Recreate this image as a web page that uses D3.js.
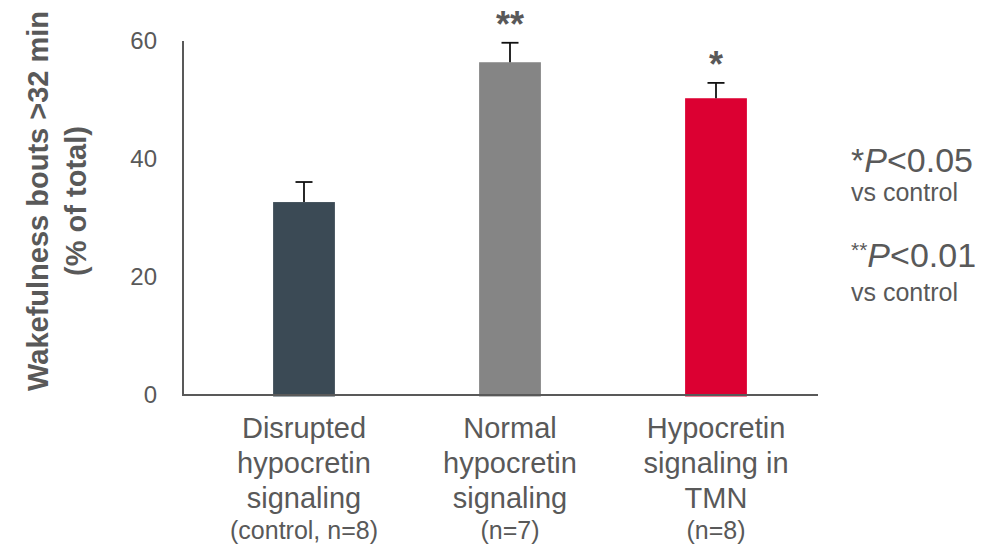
<!DOCTYPE html>
<html lang="en">
<head>
<meta charset="UTF-8">
<title>Wakefulness bouts</title>
<style>
  body { margin: 0; background: #fff; font-family: Arial, 'Liberation Sans', sans-serif; }
  svg text { fill: #595959; }
</style>
</head>
<body>
<svg id="chart" width="994" height="550"></svg>
<script src="https://cdn.jsdelivr.net/npm/d3@7"></script>
<script>
// data
var groups   = ['Disrupted hypocretin signaling', 'Normal hypocretin signaling', 'Hypocretin signaling in TMN'];
var labels   = [['Disrupted', 'hypocretin', 'signaling'], ['Normal', 'hypocretin', 'signaling'], ['Hypocretin', 'signaling in', 'TMN']];
var nLabels  = ['(control, n=8)', '(n=7)', '(n=8)'];
var values   = [32.7, 56.4, 50.3];
var errors   = [3.4, 3.3, 2.6];
var sigMarks = ['', '**', '*'];
var colors   = ['#3b4a55', '#858585', '#dc0032'];
var yTicks   = [0, 20, 40, 60];

var svg = d3.select('#chart');
var x0 = 183, x1 = 818, yTop = 41, yBot = 395;

var y = d3.scaleLinear().domain([0, 60]).range([yBot, yTop]);
var x = d3.scaleBand().domain(groups).range([201, 819]).paddingInner(0.7).paddingOuter(0.35);

// y axis
svg.append('line').attr('x1', x0).attr('x2', x0).attr('y1', yTop).attr('y2', yBot)
   .style('stroke', '#595959').style('stroke-width', 2);
svg.append('g').selectAll('text').data(yTicks).join('text')
   .attr('x', 157).attr('y', function(d){ return y(d); }).attr('dy', '0.35em')
   .attr('text-anchor', 'end').style('font-size', '24px').text(function(d){ return d; });

// bars
svg.append('g').selectAll('rect').data(values).join('rect')
   .attr('x', function(d, i){ return x(groups[i]); })
   .attr('width', x.bandwidth())
   .attr('y', function(d){ return y(d); })
   .attr('height', function(d){ return y(0) - y(d) + 1.5; })
   .style('fill', function(d, i){ return colors[i]; });

// x axis
svg.append('line').attr('x1', x0 - 1).attr('x2', x1).attr('y1', yBot).attr('y2', yBot)
   .style('stroke', '#595959').style('stroke-width', 2);

// error bars (upper only)
var eb = svg.append('g').selectAll('g').data(values).join('g')
   .attr('transform', function(d, i){ return 'translate(' + (x(groups[i]) + x.bandwidth() / 2) + ',0)'; });
eb.append('line').attr('x1', 0).attr('x2', 0)
   .attr('y1', function(d){ return y(d); })
   .attr('y2', function(d, i){ return y(d + errors[i]); })
   .style('stroke', '#111').style('stroke-width', 1.8);
eb.append('line').attr('x1', -8.5).attr('x2', 8.5)
   .attr('y1', function(d, i){ return y(d + errors[i]); })
   .attr('y2', function(d, i){ return y(d + errors[i]); })
   .style('stroke', '#111').style('stroke-width', 1.8);
eb.append('text').attr('text-anchor', 'middle')
   .attr('y', function(d, i){ return y(d + errors[i]) - 6; })
   .style('font-size', '36px').style('font-weight', 'bold')
   .text(function(d, i){ return sigMarks[i]; });

// category labels
var cl = svg.append('g').selectAll('text').data(groups).join('text')
   .attr('text-anchor', 'middle')
   .attr('transform', function(d){ return 'translate(' + (x(d) + x.bandwidth() / 2) + ',0)'; });
cl.each(function(d, i){
  var t = d3.select(this);
  labels[i].forEach(function(s, j){
    t.append('tspan').attr('x', 0).attr('y', 438 + j * 35).style('font-size', '29px').text(s);
  });
  t.append('tspan').attr('x', 0).attr('y', 539).style('font-size', '25px').text(nLabels[i]);
});

// y title
var yt = svg.append('text').attr('transform', 'translate(0,201) rotate(-90)')
   .attr('text-anchor', 'middle').style('font-size', '29px').style('font-weight', 'bold');
yt.append('tspan').attr('x', 0).attr('y', 48).text('Wakefulness bouts >32 min');
yt.append('tspan').attr('x', 0).attr('y', 86).text('(% of total)');

// significance legend
var lg = svg.append('g').attr('transform', 'translate(851,0)');
var l1 = lg.append('text').attr('y', 172).style('font-size', '34px');
l1.append('tspan').text('*');
l1.append('tspan').style('font-style', 'italic').text('P');
l1.append('tspan').text('<0.05');
lg.append('text').attr('y', 201).style('font-size', '25px').text('vs control');
var l2 = lg.append('text').attr('y', 267).style('font-size', '34px');
l2.append('tspan').style('font-size', '21px').attr('dy', '-10').text('**');
l2.append('tspan').style('font-style', 'italic').attr('dy', '10').text('P');
l2.append('tspan').text('<0.01');
lg.append('text').attr('y', 301).style('font-size', '25px').text('vs control');
</script>
</body>
</html>
